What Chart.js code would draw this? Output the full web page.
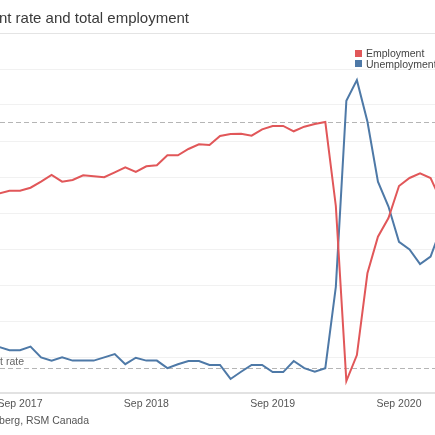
<!DOCTYPE html>
<html><head><meta charset="utf-8">
<script src="https://cdn.jsdelivr.net/npm/chart.js@4.4.1/dist/chart.umd.min.js"></script>
<style>
html,body{margin:0;padding:0;width:435px;height:435px;overflow:hidden;background:#fff;font-family:"Liberation Sans",Arial,sans-serif;}
#wrap{position:relative;width:435px;height:435px;overflow:hidden;}
canvas{position:absolute;left:0;top:0;}
.t{position:absolute;white-space:nowrap;z-index:2;}
#title{right:246px;top:9px;font-size:15px;line-height:18px;color:#3a3a3a;}
.leg{left:366px;font-size:10.5px;line-height:12px;color:#444;}
.sw{position:absolute;left:355px;width:7px;height:7px;z-index:2;}
#src{right:346px;top:414.4px;font-size:10.5px;line-height:12px;color:#555;}
#reflab{right:411px;top:354.9px;font-size:10.5px;line-height:12px;color:#666;}
</style></head>
<body>
<div id="wrap">
<canvas id="c" width="435" height="435"></canvas>
<div class="t" id="title">Unemployment rate and total employment</div>
<div class="sw" style="top:49.5px;background:#e15759"></div>
<div class="t leg" style="top:46.7px">Employment</div>
<div class="sw" style="top:60px;background:#4e79a7"></div>
<div class="t leg" style="top:57.9px">Unemployment rate</div>
<div class="t" id="reflab">Pre-pandemic unemployment rate</div>
<div class="t" id="src">Source: Bloomberg, RSM Canada</div>
</div>
<script>
const months = ['2017-07','2017-08','2017-09','2017-10','2017-11','2017-12',
 '2018-01','2018-02','2018-03','2018-04','2018-05','2018-06','2018-07','2018-08','2018-09','2018-10','2018-11','2018-12',
 '2019-01','2019-02','2019-03','2019-04','2019-05','2019-06','2019-07','2019-08','2019-09','2019-10','2019-11','2019-12',
 '2020-01','2020-02','2020-03','2020-04','2020-05','2020-06','2020-07','2020-08','2020-09','2020-10','2020-11','2020-12',
 '2021-01'];
// Employment, thousands
const employment = [18216,18248,18248,18281,18348,18422,
 18348,18367,18419,18408,18397,18452,18508,18456,18519,18530,18641,18641,
 18711,18763,18756,18856,18878,18881,18859,18930,18967,18967,18908,18959,
 18989,19011,18078,16133,16422,17330,17737,17944,18300,18389,18441,18389,
 18133];
// Unemployment rate, %
const unemployment = [6.28,6.19,6.19,6.29,5.99,5.90,
 5.99,5.90,5.90,5.90,5.99,6.08,5.80,5.98,5.90,5.90,5.69,5.80,
 5.89,5.89,5.78,5.78,5.39,5.59,5.78,5.78,5.58,5.58,5.89,5.69,
 5.59,5.69,7.95,13.12,13.69,12.54,10.87,10.18,9.20,8.99,8.58,8.79,
 9.58];
const tickMonths = ['2017-09','2018-09','2019-09','2020-09'];
const tickLabels = ['Sep 2017','Sep 2018','Sep 2019','Sep 2020'];
const refEmployment = 19011;
const refUnemployment = 5.7;

const tickIdx = tickMonths.map(m => months.indexOf(m));
const pxPerMonth = 379/36;
const xMin = tickIdx[0] - 20/pxPerMonth;
const xMax = xMin + 435/pxPerMonth;

const refLines = {
  id:'refLines',
  beforeDatasetsDraw(chart){
    const {ctx, chartArea:a, scales} = chart;
    ctx.save();
    ctx.strokeStyle = '#b5b5b5'; ctx.lineWidth = 1; ctx.setLineDash([5,3]);
    [[scales.y1, refEmployment],[scales.y, refUnemployment]].forEach(([s,v])=>{
      const y = Math.round(s.getPixelForValue(v)) + 0.5;
      ctx.beginPath(); ctx.moveTo(a.left, y); ctx.lineTo(a.right, y); ctx.stroke();
    });
    ctx.restore();
  }
};

new Chart(document.getElementById('c'), {
  type:'line',
  data:{
    datasets:[
      {label:'Employment', data: employment.map((v,i)=>({x:i,y:v})), yAxisID:'y1',
       borderColor:'#e15759', borderWidth:2, pointRadius:0, tension:0, fill:false},
      {label:'Unemployment rate', data: unemployment.map((v,i)=>({x:i,y:v})), yAxisID:'y',
       borderColor:'#4e79a7', borderWidth:2, pointRadius:0, tension:0, fill:false}
    ]
  },
  options:{
    responsive:false, animation:false,
    layout:{padding:{top:33,left:0,right:0,bottom:0}},
    plugins:{legend:{display:false}, tooltip:{enabled:false}, title:{display:false}},
    scales:{
      x:{type:'linear', min:xMin, max:xMax, offset:false,
         grid:{display:false, drawTicks:false},
         border:{display:true, color:'#e2e2e2', width:2},
         afterBuildTicks:(s)=>{ s.ticks = tickIdx.map(v=>({value:v})); },
         afterFit:(s)=>{ s.height = 42; s.paddingLeft = 0; s.paddingRight = 0; },
         ticks:{autoSkip:false, maxRotation:0, padding:5, color:'#555',
                font:{family:'"Liberation Sans", Arial, sans-serif', size:10.5},
                callback:(v)=>{ const k = tickIdx.indexOf(v); return k>=0 ? tickLabels[k] : ''; }}
      },
      y:{position:'left', min:5, max:15,
         ticks:{display:false, stepSize:1},
         grid:{drawTicks:false, color:(c)=> (c.tick && c.tick.value===15) ? '#e4e4e4' : '#f1f1f1', lineWidth:1},
         border:{display:false},
         afterFit:(s)=>{ s.width = 0; s.paddingTop = 0; s.paddingBottom = 0; }
      },
      y1:{position:'right', display:false, min:16000, max:20000}
    }
  },
  plugins:[refLines]
});
</script>
</body></html>
